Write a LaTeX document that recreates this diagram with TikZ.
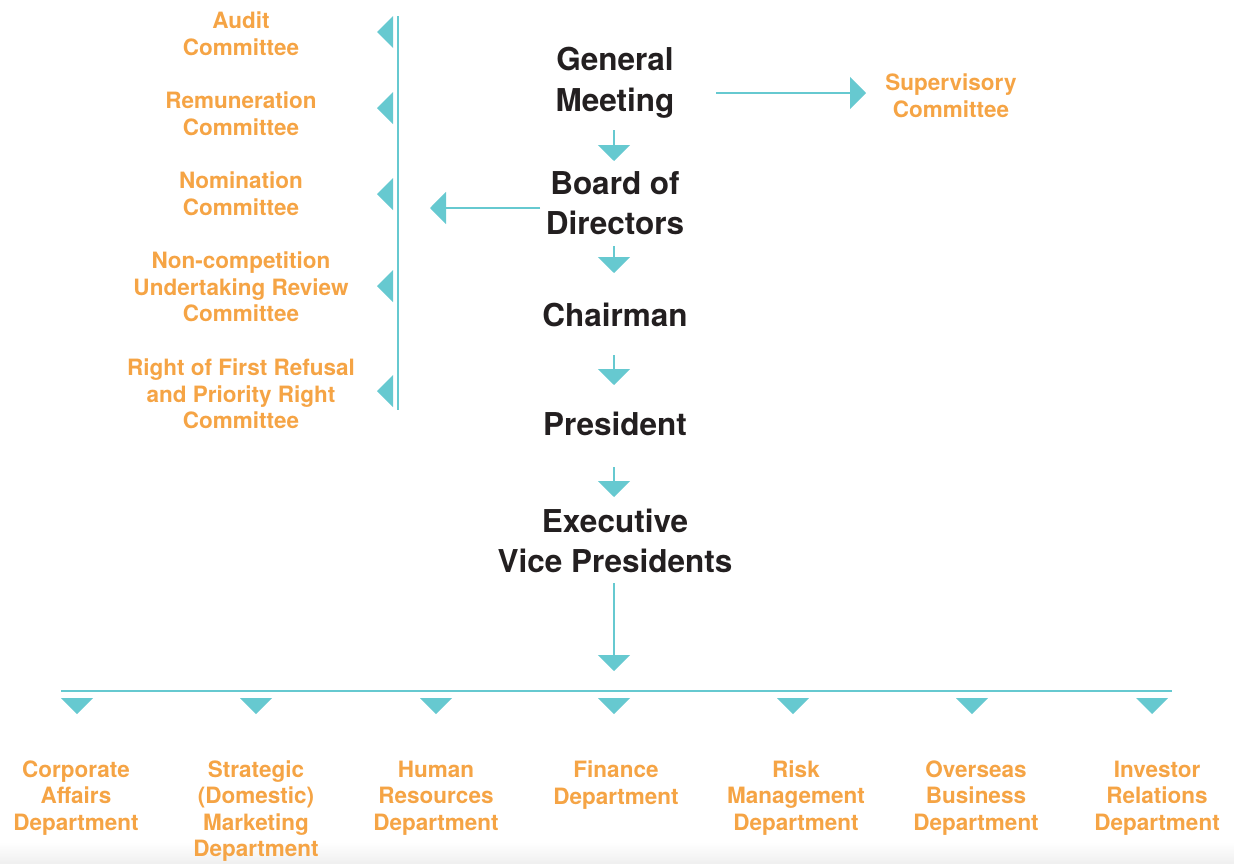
\documentclass[tikz,border=0pt]{standalone}
\usepackage{fontspec}
\setmainfont{TeX Gyre Heros}
\usetikzlibrary{arrows.meta}
\definecolor{teal}{HTML}{66C9D0}
\definecolor{orangetext}{HTML}{F5A445}
\definecolor{darktext}{HTML}{231F20}
\begin{document}
\begin{tikzpicture}[x=1pt,y=-1pt,
  office/.style={font=\fontsize{31.5}{40.5}\selectfont\bfseries, text=darktext,
    align=center, inner sep=0pt},
  unit/.style={font=\fontsize{22.5}{26.6}\selectfont\bfseries, text=orangetext,
    align=center, inner sep=0pt},
  link/.style={draw=teal, line width=2pt},
  arr/.style={link, -{Triangle[width=32pt,length=16pt]}},
  tip/.style={fill=teal}]
\useasboundingbox (0,0) rectangle (1234,863);
\shade[top color=white, bottom color=black!6] (0,842) rectangle (1234,863);

% main chain of offices
\node[office] (gm) at (615,83) {General\\Meeting};
\node[office] (board) at (615,203) {Board of\\Directors};
\node[office] (chair) at (615,315) {Chairman};
\node[office] (pres) at (615,424) {President};
\node[office] (evp) at (615,541) {Executive\\Vice Presidents};

\node[unit] (sup) at (951,96) {Supervisory\\Committee};

% board committees
\node[unit] (audit) at (241,34) {Audit\\Committee};
\node[unit] (remun) at (241,114) {Remuneration\\Committee};
\node[unit] (nomin) at (241,194) {Nomination\\Committee};
\node[unit] (noncomp) at (241,287) {Non-competition\\Undertaking Review\\Committee};
\node[unit] (rofr) at (241,394) {Right of First Refusal\\and Priority Right\\Committee};

% departments
\node[unit] (d1) at (76,798) {Corporate\\Affairs\\Department};
\node[unit] (d2) at (256,811) {Strategic\\(Domestic)\\Marketing\\Department};
\node[unit] (d3) at (436,798) {Human\\Resources\\Department};
\node[unit] (d4) at (616,785) {Finance\\Department};
\node[unit] (d5) at (796,798) {Risk\\Management\\Department};
\node[unit] (d6) at (976,798) {Overseas\\Business\\Department};
\node[unit] (d7) at (1157,798) {Investor\\Relations\\Department};

% committee bar
\coordinate (bartop) at (398,16);
\coordinate (barbot) at (398,410);
\draw[link] (bartop) -- (barbot);
\foreach \n/\yy in {audit/32, remun/108, nomin/194, noncomp/286, rofr/391}
  \fill[tip] (393,\yy-16) -- (377,\yy) -- (393,\yy+16) -- cycle;

% connectors between offices
\coordinate (gmout) at (614,130);
\coordinate (boardin) at (614,161);
\coordinate (boardout) at (614,246);
\coordinate (chairin) at (614,273);
\coordinate (chairout) at (614,355);
\coordinate (presin) at (614,385);
\coordinate (presout) at (614,467);
\coordinate (evpin) at (614,497);
\coordinate (evpout) at (614,583);
\coordinate (busin) at (614,671);
\draw[arr] (gmout) -- (boardin);
\draw[arr] (boardout) -- (chairin);
\draw[arr] (chairout) -- (presin);
\draw[arr] (presout) -- (evpin);
\draw[arr] (evpout) -- (busin);

% side connectors
\coordinate (gmside) at (716,93);
\coordinate (supin) at (866,93);
\draw[arr] (gmside) -- (supin);
\coordinate (boardside) at (540,208);
\coordinate (barin) at (430,208);
\draw[arr] (boardside) -- (barin);

% department bus
\coordinate (busl) at (61,691);
\coordinate (busr) at (1172,691);
\draw[link] (busl) -- (busr);
\foreach \xx in {77,256,436,614,793,972,1152}
  \fill[tip] (\xx-16,698) -- (\xx+16,698) -- (\xx,714) -- cycle;
\end{tikzpicture}
\end{document}
